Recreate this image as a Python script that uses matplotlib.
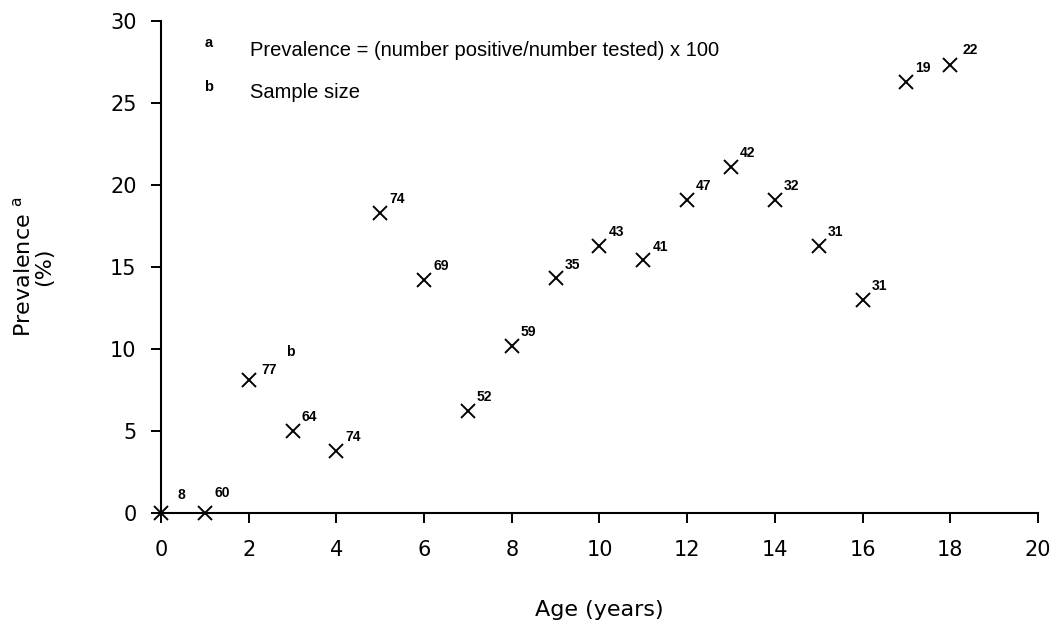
import matplotlib
matplotlib.use("Agg")
import matplotlib.pyplot as plt

# Data
ages = [0, 1, 2, 3, 4, 5, 6, 7, 8, 9, 10, 11, 12, 13, 14, 15, 16, 17, 18]
prevalence = [0.0, 0.0, 8.1, 5.0, 3.8, 18.3, 14.2, 6.2, 10.2, 14.3, 16.3, 15.4,
              19.1, 21.1, 19.1, 16.3, 13.0, 26.3, 27.3]
sample_sizes = ["8", "60", "77", "64", "74", "74", "69", "52", "59", "35", "43",
                "41", "47", "42", "32", "31", "31", "19", "22"]
x_ticks = [0, 2, 4, 6, 8, 10, 12, 14, 16, 18, 20]
y_ticks = [0, 5, 10, 15, 20, 25, 30]

NOTE_FONT = "Liberation Sans"
AXIS_FONT = "DejaVu Sans"
plt.rcParams['font.family'] = [AXIS_FONT]

fig = plt.figure(figsize=(10.57, 6.23), dpi=100)
ax = fig.add_axes([0.1523, 0.1766, 0.8297, 0.7897])

ax.plot(ages, prevalence, linestyle='none', marker='x', color='black',
        markersize=9.5, markeredgewidth=1.4, clip_on=False, zorder=3)

# sample size labels (offsets in points)
default_off = (6.5, 10)
special_off = {0: (12, 13), 1: (7, 14.5), 2: (9.5, 7.5), 18: (8.5, 11)}
for i, (a, p, s) in enumerate(zip(ages, prevalence, sample_sizes)):
    off = special_off.get(i, default_off)
    ax.annotate(s, (a, p), xytext=off, textcoords='offset points',
                ha='left', va='center', fontsize=10, fontweight='bold',
                family=NOTE_FONT)

# footnote marker "b" next to the first labelled sample size
ax.annotate("b", (ages[2], prevalence[2]), xytext=(30, 20), textcoords='offset points',
            ha='center', va='center', fontsize=10, fontweight='bold', family=NOTE_FONT)

# footnotes
ax.text(0.0547, 0.955, "a", transform=ax.transAxes, fontsize=10.5, fontweight='bold',
        ha='center', va='center', family=NOTE_FONT)
ax.text(0.1015, 0.941, "Prevalence = (number positive/number tested) x 100",
        transform=ax.transAxes, fontsize=14.5, ha='left', va='center', family=NOTE_FONT)
ax.text(0.0547, 0.866, "b", transform=ax.transAxes, fontsize=10.5, fontweight='bold',
        ha='center', va='center', family=NOTE_FONT)
ax.text(0.1015, 0.854, "Sample size", transform=ax.transAxes, fontsize=14.5,
        ha='left', va='center', family=NOTE_FONT)

ax.set_xlim(0, 20)
ax.set_ylim(0, 30)
ax.set_xticks(x_ticks)
ax.set_yticks(y_ticks)
ax.set_xticklabels([str(t) for t in x_ticks], fontsize=15)
ax.set_yticklabels([str(t) for t in y_ticks], fontsize=15)
ax.tick_params(axis='both', direction='out', length=7.5, width=1.4, colors='black')
ax.tick_params(axis='x', pad=12)
ax.tick_params(axis='y', pad=10)
for side in ['top', 'right']:
    ax.spines[side].set_visible(False)
for side in ['left', 'bottom']:
    ax.spines[side].set_linewidth(1.5)

ax.set_xlabel("Age (years)", fontsize=16, labelpad=29)
ax.set_ylabel("Prevalence $^{\\mathrm{a}}$\n(%)", fontsize=16, labelpad=40,
              linespacing=1.0)

fig.savefig("out.png", dpi=100)
